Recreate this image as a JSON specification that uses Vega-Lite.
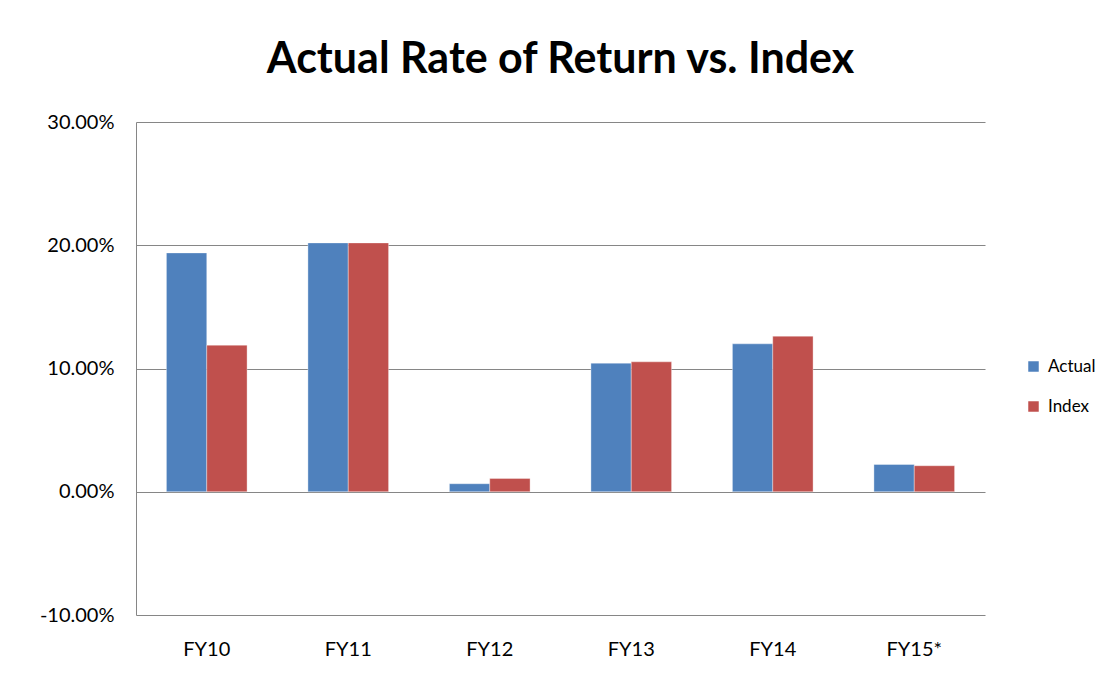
{
  "$schema": "https://vega.github.io/schema/vega-lite/v6.json",
  "autosize": "none",
  "width": 849,
  "height": 493,
  "padding": {"left": 136, "top": 122, "right": 127, "bottom": 62},
  "background": "white",
  "title": {
    "text": "Actual Rate of Return vs. Index",
    "font": "Lato",
    "fontSize": 43,
    "fontWeight": "bold",
    "color": "black",
    "anchor": "middle",
    "offset": 30
  },
  "data": {
    "values": [
      {"year": "FY10", "series": "Actual", "value": 0.1938},
      {"year": "FY10", "series": "Index", "value": 0.1189},
      {"year": "FY11", "series": "Actual", "value": 0.2019},
      {"year": "FY11", "series": "Index", "value": 0.2019},
      {"year": "FY12", "series": "Actual", "value": 0.0065},
      {"year": "FY12", "series": "Index", "value": 0.0108},
      {"year": "FY13", "series": "Actual", "value": 0.1043},
      {"year": "FY13", "series": "Index", "value": 0.1054},
      {"year": "FY14", "series": "Actual", "value": 0.1200},
      {"year": "FY14", "series": "Index", "value": 0.1262},
      {"year": "FY15*", "series": "Actual", "value": 0.0221},
      {"year": "FY15*", "series": "Index", "value": 0.0211}
    ]
  },
  "mark": {"type": "bar", "stroke": "white", "strokeOpacity": 0.35, "strokeWidth": 1},
  "encoding": {
    "x": {
      "field": "year",
      "type": "nominal",
      "sort": null,
      "title": null,
      "scale": {"paddingInner": 0.43, "paddingOuter": 0.215},
      "axis": {
        "labelAngle": 0,
        "labelFont": "Lato",
        "labelFontSize": 20,
        "labelColor": "black",
        "labelPadding": 24,
        "ticks": false,
        "domain": false
      }
    },
    "xOffset": {"field": "series", "type": "nominal", "sort": ["Actual", "Index"]},
    "y": {
      "field": "value",
      "type": "quantitative",
      "title": null,
      "scale": {"domain": [-0.1, 0.3], "nice": false, "zero": false},
      "axis": {
        "values": [-0.1, 0, 0.1, 0.2, 0.3],
        "format": ".2%",
        "labelExpr": "replace(datum.label, '−', '-')",
        "labelFont": "Lato",
        "labelFontSize": 20,
        "labelColor": "black",
        "labelPadding": 22,
        "ticks": false,
        "domain": true,
        "domainColor": "#868686",
        "grid": true,
        "gridColor": "#868686",
        "gridWidth": 1.2,
        "gridOpacity": 1
      }
    },
    "color": {
      "field": "series",
      "type": "nominal",
      "sort": ["Actual", "Index"],
      "scale": {"domain": ["Actual", "Index"], "range": ["#4F81BD", "#C0504D"]},
      "legend": {
        "title": null,
        "orient": "none",
        "legendX": 889,
        "legendY": 236,
        "symbolType": "square",
        "symbolSize": 110,
        "symbolStrokeWidth": 0,
        "labelFont": "Lato",
        "labelFontSize": 17,
        "labelColor": "black",
        "labelOffset": 6,
        "rowPadding": 22
      }
    }
  },
  "config": {
    "view": {"stroke": null}
  }
}
